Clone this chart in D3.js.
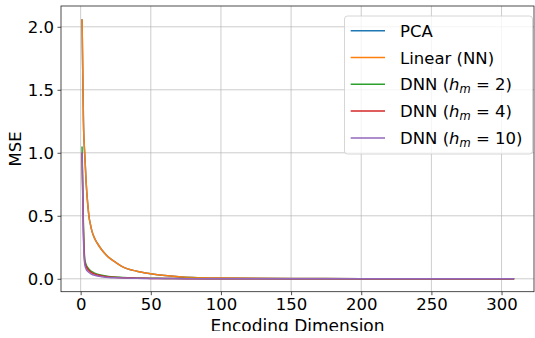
<!DOCTYPE html>
<html>
<head>
<meta charset="utf-8">
<script src="https://cdn.jsdelivr.net/npm/d3@7"></script>
<style>
  body { margin: 0; background: #fff; }
  svg text { font-family: "DejaVu Sans", sans-serif; fill: #000; }
</style>
</head>
<body>
<div id="chart"></div>
<script>
// encoding dimension at which each value was read
var dims    = [1, 2, 3, 4, 5, 6, 7, 8, 10, 12, 15, 20, 25, 30, 40, 50, 60, 70, 80, 100, 150, 200, 250, 309];
var pca     = [2.06, 1.25, 0.97, 0.75, 0.60, 0.49, 0.43, 0.38, 0.32, 0.28, 0.23, 0.17, 0.13, 0.095, 0.06, 0.04, 0.026, 0.017, 0.011, 0.006, 0.002, 0.001, 0.0005, 0.0002];
var linear  = [2.06, 1.25, 0.97, 0.75, 0.60, 0.49, 0.43, 0.38, 0.32, 0.28, 0.23, 0.17, 0.13, 0.095, 0.06, 0.04, 0.026, 0.017, 0.011, 0.006, 0.002, 0.001, 0.0005, 0.0002];
var dnn2    = [1.05, 0.42, 0.15, 0.11, 0.09, 0.075, 0.065, 0.056, 0.045, 0.037, 0.028, 0.019, 0.014, 0.01, 0.006, 0.004, 0.003, 0.002, 0.0015, 0.001, 0.0005, 0.0003, 0.0002, 0.0001];
var dnn4    = [1.00, 0.38, 0.13, 0.095, 0.078, 0.065, 0.055, 0.047, 0.037, 0.03, 0.023, 0.015, 0.011, 0.008, 0.005, 0.003, 0.002, 0.0015, 0.001, 0.0008, 0.0004, 0.0002, 0.0001, 0.0001];
var dnn10   = [1.00, 0.33, 0.11, 0.075, 0.06, 0.05, 0.042, 0.035, 0.028, 0.022, 0.017, 0.011, 0.008, 0.006, 0.004, 0.0025, 0.0018, 0.0012, 0.0009, 0.0006, 0.0003, 0.0002, 0.0001, 0.0001];

var seriesNames = ["PCA", "Linear (NN)", "DNN (h_m = 2)", "DNN (h_m = 4)", "DNN (h_m = 10)"];
var seriesValues = [pca, linear, dnn2, dnn4, dnn10];
var colors = ["#1f77b4", "#ff7f0e", "#2ca02c", "#d62728", "#9467bd"];
var hmValues = [null, null, "2", "4", "10"];

var xTicks = [0, 50, 100, 150, 200, 250, 300];
var yTicks = [0.0, 0.5, 1.0, 1.5, 2.0];

(function () {
    var width = 535, height = 338;
    var plotLeft = 61, plotRight = 534, plotTop = 6, plotBottom = 291.7;
    var fontSize = 16.5;

    var x = d3.scaleLinear().domain([-14.0, 322.4]).range([plotLeft, plotLeft + (322.4 + 14.0) * 1.403]);
    var y = d3.scaleLinear().domain([-0.1025, 2.165]).range([plotBottom, plotTop]);

    var svg = d3.select("#chart").append("svg")
        .attr("width", width)
        .attr("height", height);

    var defs = svg.append("defs");
    defs.append("clipPath")
        .attr("id", "plot")
      .append("rect")
        .attr("x", plotLeft)
        .attr("y", plotTop)
        .attr("width", plotRight - plotLeft)
        .attr("height", plotBottom - plotTop);
    // the original figure is cut just under the x label
    defs.append("clipPath")
        .attr("id", "page")
      .append("rect")
        .attr("x", 0).attr("y", 0)
        .attr("width", width).attr("height", 331);

    // grid
    var grid = svg.append("g").attr("stroke", "#b0b0b0").attr("stroke-width", 0.8).attr("stroke-opacity", 0.8);
    grid.selectAll("line.gx").data(xTicks).enter().append("line")
        .attr("x1", function (d) { return x(d); })
        .attr("x2", function (d) { return x(d); })
        .attr("y1", plotTop).attr("y2", plotBottom);
    grid.selectAll("line.gy").data(yTicks).enter().append("line")
        .attr("y1", function (d) { return y(d); })
        .attr("y2", function (d) { return y(d); })
        .attr("x1", plotLeft).attr("x2", plotRight);

    // lines
    var line = d3.line()
        .curve(d3.curveMonotoneX)
        .x(function (d, i) { return x(dims[i]); })
        .y(function (d) { return y(d); });

    svg.append("g").attr("clip-path", "url(#plot)")
      .selectAll("path")
        .data(seriesValues)
        .enter().append("path")
        .attr("fill", "none")
        .attr("stroke", function (d, i) { return colors[i]; })
        .attr("stroke-width", 1.5)
        .attr("stroke-linejoin", "round")
        .attr("d", line);

    // frame
    svg.append("rect")
        .attr("x", plotLeft).attr("y", plotTop)
        .attr("width", plotRight - plotLeft).attr("height", plotBottom - plotTop)
        .attr("fill", "none")
        .attr("stroke", "#222")
        .attr("stroke-width", 0.8);

    // axes
    var xAxis = d3.axisBottom(x).tickValues(xTicks).tickSize(3.5).tickPadding(3.5).tickFormat(d3.format("d"));
    var yAxis = d3.axisLeft(y).tickValues(yTicks).tickSize(3.5).tickPadding(3.5).tickFormat(d3.format(".1f"));

    var gx = svg.append("g").attr("transform", "translate(0," + plotBottom + ")").call(xAxis);
    var gy = svg.append("g").attr("transform", "translate(" + plotLeft + ",0)").call(yAxis);
    [gx, gy].forEach(function (g) {
        g.select(".domain").remove();
        g.selectAll(".tick line").attr("stroke", "#222").attr("stroke-width", 0.8);
        g.selectAll(".tick text").attr("font-size", fontSize).attr("font-family", "DejaVu Sans").attr("fill", "#000");
    });

    svg.append("g").attr("clip-path", "url(#page)")
      .append("text")
        .attr("x", (plotLeft + plotRight) / 2)
        .attr("y", 331.5)
        .attr("text-anchor", "middle")
        .attr("font-size", 17)
        .text("Encoding Dimension");

    svg.append("text")
        .attr("transform", "translate(21," + ((plotTop + plotBottom) / 2) + ") rotate(-90)")
        .attr("text-anchor", "middle")
        .attr("font-size", fontSize)
        .text("MSE");

    // legend
    var legend = svg.append("g");
    legend.append("rect")
        .attr("x", 344.5).attr("y", 16)
        .attr("width", 188).attr("height", 138)
        .attr("rx", 3).attr("ry", 3)
        .attr("fill", "#fff").attr("fill-opacity", 0.8)
        .attr("stroke", "#cccccc").attr("stroke-width", 0.8);

    var items = legend.selectAll("g.item")
        .data(seriesNames)
        .enter().append("g")
        .attr("transform", function (d, i) { return "translate(0," + (30.7 + i * 26.8) + ")"; });

    items.append("line")
        .attr("x1", 350.7).attr("x2", 385)
        .attr("stroke", function (d, i) { return colors[i]; })
        .attr("stroke-width", 1.5);

    items.each(function (d, i) {
        var t = d3.select(this).append("text")
            .attr("x", 400).attr("y", 6)
            .attr("font-size", fontSize);
        if (hmValues[i] === null) {
            t.text(d);
        } else {
            t.append("tspan").text("DNN (");
            t.append("tspan").attr("font-style", "italic").text("h");
            t.append("tspan").attr("font-style", "italic").attr("font-size", 11.5).attr("dy", 3).text("m");
            t.append("tspan").attr("dy", -3).text(" = " + hmValues[i] + ")");
        }
    });
})();
</script>
</body>
</html>
